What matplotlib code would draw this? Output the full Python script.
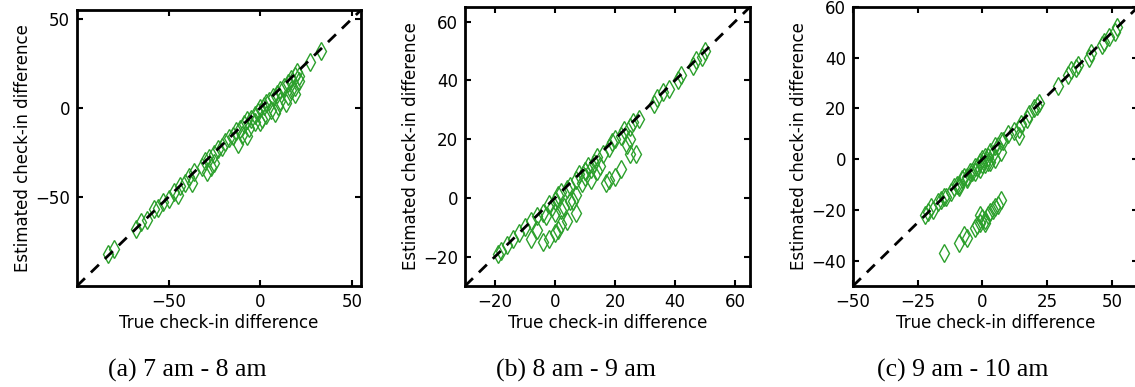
import matplotlib
matplotlib.use("Agg")
import matplotlib.pyplot as plt
import numpy as np

# panel (a) 7 am - 8 am
true_a = [-83, -80, -68, -65, -62, -58, -56, -53, -50, -47, -44, -41, -39, -36, -32, -30,
          -28, -25, -23, -21, -19, -17, -15, -13, -11, -9, -7, -5, -3, -1, 0, 2, 3, 5, 7,
          9, 11, 13, 15, 17, 19, 20, 27, 33,
          -45, -37, -29, -27, -25, -12, -10, -7, -6, -3, 0, 1, 3, 6, 8, 10, 11, 14, 15,
          17, 19, 21, 21, 19]
est_a = [-82, -79, -68, -64, -63, -57, -56, -53, -51, -47, -44, -42, -39, -36, -33, -30,
         -28, -26, -23, -22, -19, -17, -16, -13, -12, -9, -7, -6, -4, -2, 0, 1, 3, 4, 6,
         8, 10, 12, 14, 16, 18, 20, 26, 32,
         -49, -42, -36, -33, -31, -20, -15, -16, -11, -8, -8, -6, -4, -1, -3, 1, 4, 3, 7,
         10, 12, 15, 18, 8]

# panel (b) 8 am - 9 am
true_b = [-19, -18, -16, -14, -12, -10, -8, -6, -4, -2, 0, 1, 2, 4, 5, 7, 8, 10, 11, 13,
          14, 16, 18, 19, 20, 22, 23, 25, 26, 28, 33, 34, 36, 38, 41, 42, 46, 47, 49, 50,
          -8, -6, -4, -2, 0, 1, 2, 4, 7, 3, 5, 7, -3, 0, 2, -1, 6, 9, 10, 12, 15, 14, 17,
          18, 20, 22, 25, 25, 27, 24, 12, 10]
est_b = [-19, -18, -16, -14, -12, -10, -8, -6, -5, -2, -1, 1, 2, 3, 4, 6, 8, 9, 11, 12,
         14, 15, 17, 19, 20, 21, 23, 24, 26, 27, 32, 34, 36, 37, 40, 42, 45, 47, 48, 50,
         -14, -11, -15, -14, -12, -11, -9, -8, -5, -3, -1, 1, -6, -5, -4, -3, -1, 5, 7, 6,
         11, 9, 5, 6, 7, 10, 15, 20, 15, 18, 10, 9]

# panel (c) 9 am - 10 am
true_c = [-22, -21, -20, -19, -17, -16, -15, -14, -12, -11, -10, -9, -8, -7, -6, -5, -4,
          -3, -2, -1, 0, 1, 2, 3, 4, 5, 6, 7, 8, 10, 12, 14, 15, 17, 18, 20, 21, 22, 29,
          33, 34, 36, 37, 41, 42, 46, 47, 49, 51, 52,
          -3, -1, 1, 3, 5, 7, 14, -9, -6, 0, 2,
          -15, -9, -7, -6, -3, -2, -1, 0, 1, 2, 3, 4, 5, 6, 7, 1, -1]
est_c = [-22, -21, -19, -20, -17, -16, -15, -15, -13, -11, -10, -10, -8, -7, -7, -5, -5,
         -3, -3, -1, 0, 1, 1, 3, 2, 5, 5, 7, 7, 10, 11, 12, 14, 16, 18, 20, 21, 22, 29,
         33, 35, 36, 37, 40, 42, 45, 46, 48, 50, 52,
         -5, -4, -2, -1, 0, 3, 9, -11, -8, -2, -1,
         -37, -33, -30, -31, -27, -26, -25, -23, -24, -22, -21, -20, -19, -18, -16, -25, -22]

captions = ["(a) 7 am - 8 am", "(b) 8 am - 9 am", "(c) 9 am - 10 am"]
limits = [(-100, 55), (-30, 65), (-50, 60)]
xticks = [[-50, 0, 50], [-20, 0, 20, 40, 60], [-50, -25, 0, 25, 50]]
yticks = [[-50, 0, 50], [-20, 0, 20, 40, 60], [-40, -20, 0, 20, 40, 60]]

panels = [(true_a, est_a), (true_b, est_b), (true_c, est_c)]

fig = plt.figure(figsize=(11.35, 3.87), dpi=100)
boxes = [[0.0678, 0.261, 0.2502, 0.713],
         [0.4097, 0.261, 0.2511, 0.721],
         [0.7515, 0.261, 0.2511, 0.721]]
centers = [0.165, 0.507, 0.848]

for i, (tx, ey) in enumerate(panels):
    ax = fig.add_axes(boxes[i])
    ax.plot(tx, ey, linestyle='none', marker='d', markersize=9,
            markerfacecolor='none', markeredgecolor='#2ca02c', markeredgewidth=1.0)
    lo, hi = limits[i]
    # y = x reference line
    ax.plot([lo, hi], [lo, hi], 'k--', lw=2, dashes=(4, 3))
    ax.set_xlim(limits[i])
    ax.set_ylim(limits[i])
    ax.set_xticks(xticks[i])
    ax.set_yticks(yticks[i])
    ax.tick_params(direction='in', top=True, right=True, length=4, width=1.5,
                   labelsize=12, pad=5)
    for s in ax.spines.values():
        s.set_linewidth(2)
    ax.set_xlabel('True check-in difference', fontsize=12, labelpad=2)
    ax.set_ylabel('Estimated check-in difference', fontsize=12, labelpad=2)
    fig.text(centers[i], 0.044, captions[i], ha='center', va='center',
             family='Liberation Serif', fontsize=18.5)

fig.savefig('out.png', dpi=100)
